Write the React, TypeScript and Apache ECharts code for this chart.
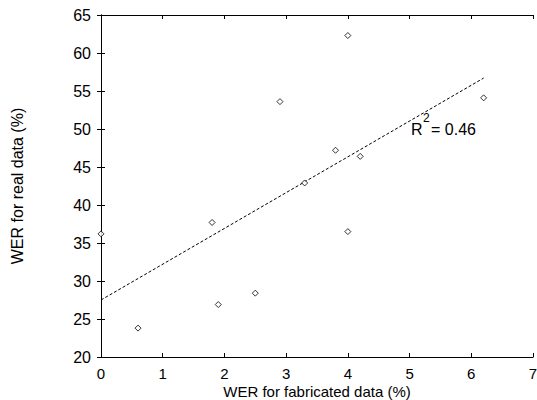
import React, { useEffect, useRef } from "react";
import * as echarts from "echarts";

const xTitle = "WER for fabricated data (%)";
const yTitle = "WER for real data (%)";
const fabricated = [0, 0.6, 1.8, 1.9, 2.5, 2.9, 3.3, 3.8, 4.0, 4.0, 4.2, 6.2];
const real = [36.2, 23.8, 37.7, 26.9, 28.4, 53.6, 42.9, 47.2, 62.3, 36.5, 46.4, 54.1];
const fitX = [0, 6.2];
const fitY = [27.5, 56.7];
const r2Text = "0.46";

const FONT = "'Liberation Sans', Arial, Helvetica, sans-serif";

export default function App() {
  const ref = useRef<HTMLDivElement>(null);
  useEffect(() => {
    if (!ref.current) return;
    const chart = echarts.init(ref.current, null, { renderer: "svg" });
    const axisCommon = {
      axisLine: { show: true, lineStyle: { color: "#000", width: 1 } },
      axisTick: { show: true, inside: true, length: 4, lineStyle: { color: "#000" } },
      splitLine: { show: false },
    };
    chart.setOption({
      animation: false,
      backgroundColor: "#fff",
      grid: {
        left: 101,
        right: 4,
        top: 15,
        bottom: 43,
        containLabel: false,
        outerBoundsMode: "none",
      },
      xAxis: [
        {
          ...axisCommon,
          type: "value",
          min: 0,
          max: 7,
          interval: 1,
          position: "bottom",
          name: xTitle,
          nameLocation: "middle",
          nameGap: 27,
          nameMoveOverlap: false,
          nameTextStyle: { color: "#000", fontSize: 15, lineHeight: 15, fontFamily: FONT },
          axisLabel: { color: "#000", fontSize: 15, lineHeight: 15, fontFamily: FONT, margin: 9 },
        },
        {
          ...axisCommon,
          type: "value",
          min: 0,
          max: 7,
          interval: 1,
          position: "top",
          axisLabel: { show: false },
        },
      ],
      yAxis: [
        {
          ...axisCommon,
          type: "value",
          min: 20,
          max: 65,
          interval: 5,
          position: "left",
          name: yTitle,
          nameLocation: "middle",
          nameGap: 76,
          nameMoveOverlap: false,
          nameTextStyle: { color: "#000", fontSize: 16, fontFamily: FONT },
          axisLabel: { color: "#000", fontSize: 16, lineHeight: 14, fontFamily: FONT, margin: 10 },
        },
        {
          ...axisCommon,
          type: "value",
          min: 20,
          max: 65,
          interval: 5,
          position: "right",
          axisLabel: { show: false },
        },
      ],
      series: [
        {
          type: "line",
          data: fitX.map((x, i) => [x, fitY[i]]),
          symbol: "none",
          lineStyle: { color: "#000", width: 1, type: [3, 2] },
          silent: true,
          z: 1,
        },
        {
          type: "scatter",
          data: fabricated.map((x, i) => [x, real[i]]),
          symbol: "diamond",
          symbolSize: 6,
          itemStyle: { color: "#fff", borderColor: "#000", borderWidth: 1 },
          z: 3,
        },
      ],
      graphic: [
        { type: "text", left: 411, top: 121, style: { text: "R", fontSize: 16, fontFamily: FONT, fill: "#000" } },
        { type: "text", left: 423, top: 112, style: { text: "2", fontSize: 12, fontFamily: FONT, fill: "#000" } },
        { type: "text", left: 431, top: 121, style: { text: "= " + r2Text, fontSize: 16, fontFamily: FONT, fill: "#000" } },
      ],
    });
    return () => chart.dispose();
  }, []);
  return (
    <div
      ref={ref}
      style={{ position: "absolute", left: 0, top: 0, width: 537, height: 400 }}
    />
  );
}
